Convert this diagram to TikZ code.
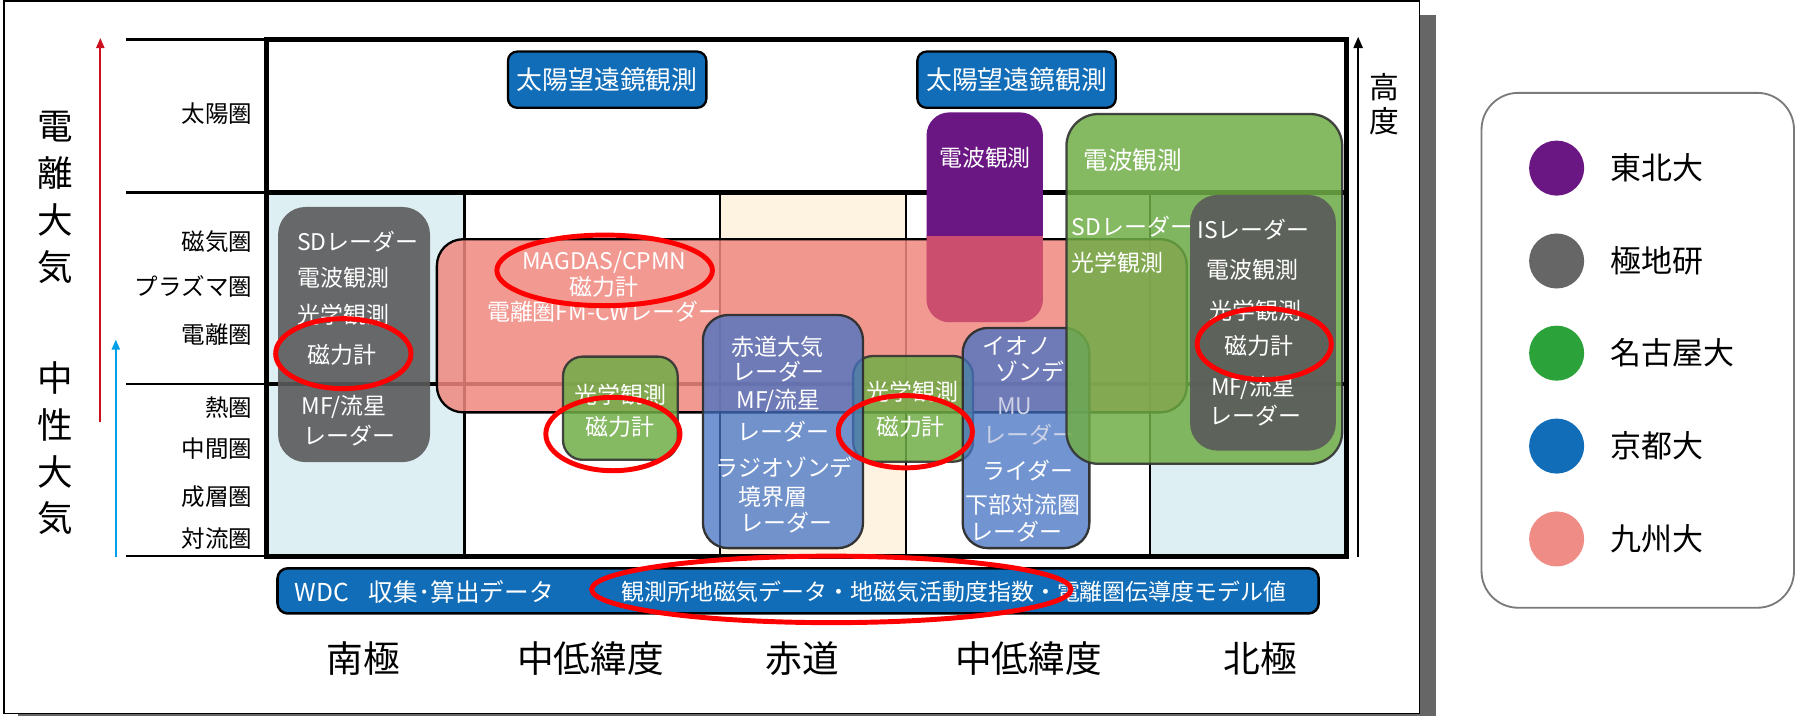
\documentclass[tikz,border=0pt]{standalone}
\usepackage{fontspec}
\setmainfont{Noto Sans CJK JP}
\usetikzlibrary{arrows.meta}
\definecolor{shadowgrey}{HTML}{666666}
\definecolor{ltblue}{HTML}{DDEFF3}
\definecolor{cream}{HTML}{FEF3E0}
\definecolor{kyoto}{HTML}{116DB8}
\definecolor{tohoku}{HTML}{6A1683}
\definecolor{nipr}{HTML}{666666}
\definecolor{nagoya}{HTML}{2BA33A}
\definecolor{kyushu}{HTML}{F08C86}
\definecolor{greenbox}{HTML}{70AD47}
\definecolor{bluebox}{HTML}{4472C4}
\definecolor{pinkbox}{HTML}{F08880}
\definecolor{greybox}{HTML}{5A5A5A}
\definecolor{rasp}{HTML}{CC4E6E}
\definecolor{redarrow}{HTML}{CC1020}
\definecolor{cyanarrow}{HTML}{00A0E9}
\definecolor{ringred}{HTML}{FF0000}
\definecolor{boxline}{HTML}{333333}
\definecolor{legline}{HTML}{7A7A7A}
\definecolor{fadetext}{HTML}{CDD2E6}
\newcommand\myfs[1]{\fontsize{#1}{#1}\selectfont}
\begin{document}
\begin{tikzpicture}[x=1pt,y=-1pt,
  wt/.style={text=white,inner sep=0pt,font=\myfs{20}},
  wtw/.style={wt,anchor=west},
  lbl/.style={text=black,inner sep=0pt,anchor=east,font=\myfs{20.5}},
  vlbl/.style={text=black,inner sep=0pt,font=\myfs{31}},
  geo/.style={text=black,inner sep=0pt,font=\myfs{32}},
  legtxt/.style={text=black,inner sep=0pt,anchor=west,font=\myfs{27}},
  legdot/.style={circle,inner sep=0pt,minimum size=48pt},
  thinline/.style={line width=2.2},
  thickline/.style={line width=4.4},
  kbox/.style={fill=kyoto,draw=black,line width=2,rounded corners=8},
  gbox/.style={fill=greenbox,fill opacity=0.85,draw=boxline,draw opacity=0.9,line width=2},
  bbox/.style={fill=bluebox,fill opacity=0.75,draw=boxline,line width=2,rounded corners=22},
  ring/.style={draw=ringred,line width=4.3},
]
\useasboundingbox (0,0) rectangle (1568,624);
% outer frame with shadow
\fill[shadowgrey] (16,13) rectangle (1252,640);
\draw[fill=white,line width=1.3] (3.3,1) rectangle (1238,622);
% column backgrounds
\fill[ltblue] (232,168) rectangle (405,485);
\fill[cream] (628,168) rectangle (790,485);
\fill[ltblue] (1003,168) rectangle (1174,485);
% grid
\foreach \gx in {405,628,790,1003} \draw[line width=2] (\gx,168) -- (\gx,485);
\foreach \gy in {34.4,168,335,485} \draw[thinline] (110,\gy) -- (232,\gy);
\draw[line width=3.6] (232,335) -- (1174,335);
\draw[thickline] (232,168) -- (1174,168);
\draw[thickline] (232,34.4) rectangle (1174,485);
% arrows
\coordinate (hb) at (1184.4,486);
\coordinate (ht) at (1184.4,32);
\draw[line width=2,-{Triangle[length=10pt,width=8pt]}] (hb) -- (ht);
\coordinate (rb) at (87.5,368);
\coordinate (rt) at (87.5,33);
\draw[redarrow,line width=2,-{Triangle[length=9pt,width=7pt]}] (rb) -- (rt);
\coordinate (cb) at (101,486);
\coordinate (ct) at (101,296);
\draw[cyanarrow,line width=2,-{Triangle[length=9pt,width=7pt]}] (cb) -- (ct);
% vertical labels
\node[vlbl] (v1) at (48,110) {電};
\node[vlbl] (v2) at (48,151) {離};
\node[vlbl] (v3) at (48,192) {大};
\node[vlbl] (v4) at (48,233) {気};
\node[vlbl] (v5) at (48,330) {中};
\node[vlbl] (v6) at (48,371) {性};
\node[vlbl] (v7) at (48,412) {大};
\node[vlbl] (v8) at (48,452) {気};
\node[vlbl,font=\myfs{26}] (h1) at (1207,76) {高};
\node[vlbl,font=\myfs{26}] (h2) at (1207,106) {度};
% layer labels
\node[lbl] (l1) at (220,99) {太陽圏};
\node[lbl] (l2) at (220,211) {磁気圏};
\node[lbl] (l3) at (220,250) {プラズマ圏};
\node[lbl] (l4) at (220,292) {電離圏};
\node[lbl] (l5) at (220,355) {熱圏};
\node[lbl] (l6) at (220,391) {中間圏};
\node[lbl] (l7) at (220,433) {成層圏};
\node[lbl] (l8) at (220,470) {対流圏};
% solar telescope boxes
\draw[kbox] (443,45) rectangle (616,94);
\node[wt,font=\myfs{22.5}] (sun1) at (529.5,69.5) {太陽望遠鏡観測};
\draw[kbox] (800,45) rectangle (973,94);
\node[wt,font=\myfs{22.5}] (sun2) at (886.5,69.5) {太陽望遠鏡観測};
% Tohoku (purple)
\fill[tohoku,rounded corners=20] (808,98) rectangle (909.5,281);
\node[wt] (pu1) at (859,138) {電波観測};
% NIPR left (grey)
\fill[greybox,opacity=0.9,rounded corners=24] (242.5,180.5) rectangle (375,403);
\node[wtw] (ga1) at (259,211) {SDレーダー};
\node[wtw] (ga2) at (259,242.7) {電波観測};
\node[wtw] (ga3) at (259,274.5) {光学観測};
\node[wt] (ga4) at (298.5,309.6) {磁力計};
\node[wtw] (ga5) at (263,355) {MF/流星};
\node[wtw] (ga6) at (264.5,379.6) {レーダー};
% Kyushu (pink)
\draw[fill=pinkbox,fill opacity=0.85,line width=2,rounded corners=23] (381,208.6) rectangle (1035,359.6);
\begin{scope}
\clip (381,206) rectangle (1035,359.6);
\fill[rasp,rounded corners=20] (808,98) rectangle (909.5,281);
\end{scope}
\node[wt] (pk1) at (527,228.5) {MAGDAS/CPMN};
\node[wt] (pk2) at (527,250) {磁力計};
\node[wt] (pk3) at (527,272) {電離圏FM-CWレーダー};
% Nagoya small boxes
\draw[gbox,rounded corners=17] (491,311) rectangle (591,401);
\node[wt] (gs1) at (541,344.5) {光学観測};
\node[wt] (gs2) at (541,372) {磁力計};
\draw[gbox,rounded corners=17] (744,310.5) rectangle (848.5,402.6);
\node[wt] (gm1) at (796,341.6) {光学観測};
\node[wt] (gm2) at (794,372) {磁力計};
% Kyoto boxes
\draw[bbox] (613,274.7) rectangle (752.6,478);
\node[wt] (b1) at (678,302.5) {赤道大気};
\node[wt] (b2) at (679,324) {レーダー};
\node[wt] (b3) at (679,350) {MF/流星};
\node[wt] (b4) at (683,376.4) {レーダー};
\node[wt] (b5) at (684,408) {ラジオゾンデ};
\node[wt] (b6) at (674,433) {境界層};
\node[wt] (b7) at (686,456) {レーダー};
\draw[bbox] (839.5,286) rectangle (950,478);
\node[wt] (r1) at (886.6,302) {イオノ};
\node[wt] (r2) at (898,324) {ゾンデ};
\node[wt,text=fadetext] (r3) at (885,354.6) {MU};
\node[wt,text=fadetext] (r4) at (898,379.4) {レーダー};
\node[wt] (r5) at (896.6,410) {ライダー};
\node[wt] (r6) at (892,440.4) {下部対流圏};
\node[wt] (r7) at (886.6,463.7) {レーダー};
% Nagoya big box
\draw[gbox,rounded corners=28] (930,99.4) rectangle (1170.5,404.5);
\node[wt,font=\myfs{21.5}] (gb1) at (988,139.5) {電波観測};
\node[wtw] (gb2) at (934.6,197.7) {SDレーダー};
\node[wtw] (gb3) at (934.6,229.5) {光学観測};
% NIPR right (grey)
\fill[greybox,opacity=0.9,rounded corners=24] (1037.8,170) rectangle (1165,393);
\node[wt] (gr1) at (1093,200.6) {ISレーダー};
\node[wt] (gr2) at (1092,235.5) {電波観測};
\node[wt] (gr3) at (1095,271) {光学観測};
\node[wt] (gr4) at (1098,302) {磁力計};
\node[wt] (gr5) at (1093,338.7) {MF/流星};
\node[wt] (gr6) at (1095,362) {レーダー};
% WDC bar
\draw[fill=kyoto,line width=2.2,rounded corners=9] (242,495.6) rectangle (1150,535);
\node[wtw,font=\myfs{21.5}] (w1) at (257,516) {WDC\hspace{0.8em}収集･算出データ};
\node[wtw] (w2) at (541.6,516) {観測所地磁気データ・地磁気活動度指数・電離圏伝導度モデル値};
% red rings
\draw[ring] (299.4,308.4) ellipse [x radius=59pt,y radius=30.5pt];
\draw[ring] (527.3,235.8) ellipse [x radius=94pt,y radius=30.8pt];
\draw[ring] (534.5,378.5) ellipse [x radius=58.5pt,y radius=32pt];
\draw[ring] (789.5,376.5) ellipse [x radius=58.5pt,y radius=31.5pt];
\draw[ring] (1102.5,300) ellipse [x radius=58.5pt,y radius=31pt];
\draw[ring] (725,514) ellipse [x radius=209pt,y radius=29pt];
% latitude labels
\node[geo] (x1) at (317,574) {南極};
\node[geo] (x2) at (515,574) {中低緯度};
\node[geo] (x3) at (700,574) {赤道};
\node[geo] (x4) at (897,574) {中低緯度};
\node[geo] (x5) at (1099,574) {北極};
% legend
\draw[draw=legline,line width=1.6,rounded corners=32] (1292,81) rectangle (1564.5,530);
\node[legdot,fill=tohoku] (d1) at (1357.5,146.6) {};
\node[legdot,fill=nipr] (d2) at (1357.5,227.6) {};
\node[legdot,fill=nagoya] (d3) at (1357.5,308) {};
\node[legdot,fill=kyoto] (d4) at (1357.5,389) {};
\node[legdot,fill=kyushu] (d5) at (1357.5,470) {};
\node[legtxt] (e1) at (1404,146.6) {東北大};
\node[legtxt] (e2) at (1404,227.6) {極地研};
\node[legtxt] (e3) at (1404,308) {名古屋大};
\node[legtxt] (e4) at (1404,389) {京都大};
\node[legtxt] (e5) at (1404,470) {九州大};
\end{tikzpicture}
\end{document}
